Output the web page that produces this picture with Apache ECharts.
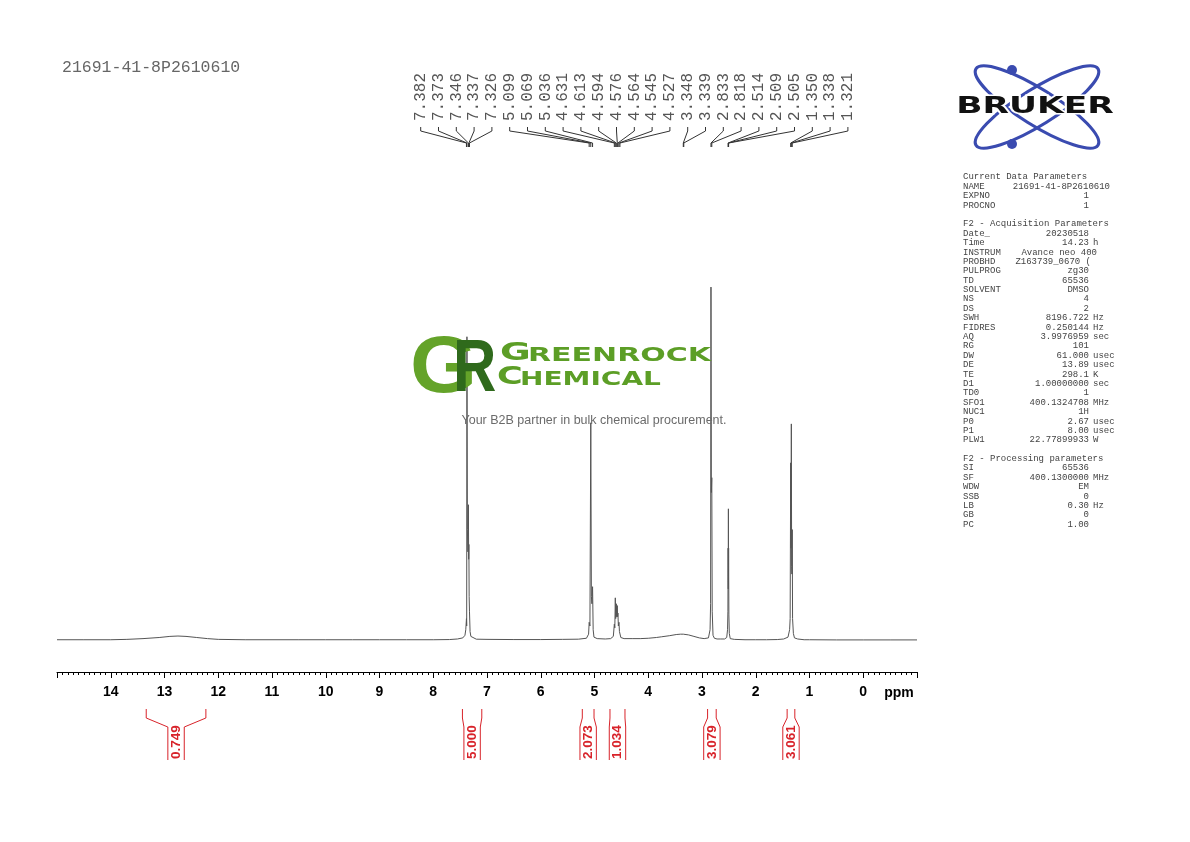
<!DOCTYPE html>
<html><head><meta charset="utf-8">
<script src="https://cdn.jsdelivr.net/npm/echarts@6/dist/echarts.min.js"></script>
<style>html,body{margin:0;padding:0;background:#fff}#c{width:1190px;height:842px}</style>
</head><body><div id="c"></div>
<script>
// ---- spectrum (ppm, intensity) ----
const spectrumPpm = [15.0,14.5,14.0,13.7,13.4,13.1,12.9,12.75,12.6,12.4,12.2,12.0,11.5,11.0,10.5,10.0,9.5,9.0,8.5,8.0,
  7.7,7.55,7.45,7.41,7.395,7.382,7.378,7.373,7.365,7.355,7.346,7.341,7.337,7.332,7.326,7.315,7.30,7.28,7.2,7.0,
  6.5,6.0,5.6,5.3,5.15,5.11,5.099,5.085,5.069,5.058,5.048,5.036,5.025,5.01,4.95,4.8,4.7,4.65,
  4.631,4.622,4.613,4.606,4.600,4.594,4.588,4.582,4.576,4.570,4.564,4.556,4.545,4.536,4.527,4.51,4.45,4.3,4.15,
  4.0,3.85,3.75,3.6,3.48,3.40,3.348,3.339,3.25,3.15,3.05,2.96,2.88,2.85,2.840,2.833,2.826,2.818,2.810,2.795,2.77,2.72,2.65,2.58,
  2.54,2.525,2.518,2.514,2.511,2.509,2.507,2.505,2.500,2.492,2.475,2.4,2.2,2.0,1.8,1.6,1.48,1.40,1.37,1.36,
  1.350,1.344,1.338,1.332,1.327,1.321,1.315,1.30,1.28,1.22,1.1,1.0,0.5,0.0,-0.5,-1.0];
const spectrumInt = [0.3,0.3,0.3,0.4,0.6,0.9,1.2,1.3,1.2,0.9,0.6,0.4,0.3,0.3,0.3,0.3,0.3,0.3,0.3,0.3,
  0.35,0.5,0.8,1.5,3.0,6.0,4.0,82.0,30.0,24.0,36.7,22.0,26.0,12.0,8.0,2.5,1.2,0.7,0.45,0.4,
  0.35,0.35,0.4,0.45,0.7,1.8,5.0,4.0,58.8,12.0,10.0,14.6,3.0,1.0,0.6,0.5,0.6,1.2,
  4.5,3.5,11.6,6.0,7.0,10.0,6.5,7.5,9.5,6.5,7.5,4.0,5.0,2.5,2.2,0.9,0.6,0.6,0.6,
  0.7,0.9,1.1,1.4,1.7,1.8,1.8,1.8,1.6,1.2,0.8,0.6,0.8,3.0,10.0,95.4,40.0,44.0,8.0,1.5,0.7,0.5,0.5,0.5,
  0.9,3.0,8.0,25.0,14.0,35.6,16.0,25.0,7.0,2.0,0.6,0.4,0.3,0.3,0.3,0.35,0.5,1.0,3.0,6.0,
  48.0,25.0,58.5,20.0,18.0,30.0,6.0,2.0,0.8,0.5,0.3,0.3,0.25,0.25,0.25,0.25];

// ---- peak picking labels ----
const peakLabelPpm = [7.382,7.373,7.346,7.337,7.326,5.099,5.069,5.036,4.631,4.613,4.594,4.576,4.564,4.545,4.527,
  3.348,3.339,2.833,2.818,2.514,2.509,2.505,1.350,1.338,1.321];

// ---- integrals ----
const integralFrom = [13.34,7.457,5.227,4.712,2.896,1.416];
const integralTo   = [12.23,7.097,5.009,4.433,2.736,1.273];
const integralValues = ['0.749','5.000','2.073','1.034','3.079','3.061'];

// ---- axis ----
const axisTickLabels = [0,1,2,3,4,5,6,7,8,9,10,11,12,13,14];

// ---- acquisition parameters ----
const paramNames = ['Current Data Parameters','NAME','EXPNO','PROCNO','','F2 - Acquisition Parameters','Date_','Time','INSTRUM','PROBHD','PULPROG','TD','SOLVENT','NS','DS','SWH','FIDRES','AQ','RG','DW','DE','TE','D1','TD0','SFO1','NUC1','P0','P1','PLW1','','F2 - Processing parameters','SI','SF','WDW','SSB','LB','GB','PC'];
const paramValues = ['','21691-41-8P2610610','1','1','','','20230518','14.23','Avance neo 400','Z163739_0670 (','zg30','65536','DMSO','4','2','8196.722','0.250144','3.9976959','101','61.000','13.89','298.1','1.00000000','1','400.1324708','1H','2.67','8.00','22.77899933','','','65536','400.1300000','EM','0','0.30','0','1.00'];
const paramUnits = ['','','','','','','','h','','','','','','','','Hz','Hz','sec','','usec','usec','K','sec','','MHz','','usec','usec','W','','','','MHz','','','Hz','',''];

const chart = echarts.init(document.getElementById('c'), null, {renderer:'canvas', width:1190, height:842});

const LABEL_LEFT = 420.7, LABEL_STEP = 17.8;
const MONO = '"Liberation Mono", "DejaVu Sans Mono", monospace';
const SANS = '"Liberation Sans", Arial, sans-serif';
const RED = '#d8232a';

const graphics = [];
graphics.push({type:'text', x:62, y:68, style:{text:'21691-41-8P2610610', font:'16.5px '+MONO, fill:'#666', align:'left', verticalAlign:'middle'}});
// parameters panel
const PLH = 9.39;
paramNames.forEach((n,i)=>{
  const y = 177 + i*PLH;
  if (n) graphics.push({type:'text', x:963, y:y, style:{text:n, font:'9px '+MONO, fill:'#444', align:'left', verticalAlign:'middle'}});
  const v = paramValues[i];
  if (v) {
    let rx = 1089;
    if (n==='NAME') rx = 1110; else if (n==='INSTRUM') rx = 1097; else if (n==='PROBHD') rx = 1091;
    graphics.push({type:'text', x:rx, y:y, style:{text:v, font:'9px '+MONO, fill:'#444', align:'right', verticalAlign:'middle'}});
  }
  const u = paramUnits[i];
  if (u) graphics.push({type:'text', x:1093, y:y, style:{text:u, font:'9px '+MONO, fill:'#444', align:'left', verticalAlign:'middle'}});
});
// Bruker logo
const BLUE = '#3a4bb0';
graphics.push({type:'ellipse', x:1037, y:107, rotation:0.56, shape:{cx:0,cy:0,rx:72,ry:18}, style:{fill:'none', stroke:BLUE, lineWidth:3.2}});
graphics.push({type:'ellipse', x:1037, y:107, rotation:-0.56, shape:{cx:0,cy:0,rx:72,ry:18}, style:{fill:'none', stroke:BLUE, lineWidth:3.2}});
graphics.push({type:'circle', shape:{cx:1012, cy:70, r:5}, style:{fill:BLUE}});
graphics.push({type:'circle', shape:{cx:1012, cy:144, r:5}, style:{fill:BLUE}});
graphics.push({type:'text', x:1035, y:107, scaleX:1.5, style:{text:'BRUKER', font:'bold 23px "DejaVu Sans", sans-serif', fill:'#111', stroke:'#fff', lineWidth:3, align:'center', verticalAlign:'middle'}});
// GreenRock watermark
graphics.push({type:'text', x:410, y:370, z:10, scaleX:1.08, style:{text:'G', font:'bold 80px '+SANS, fill:'#64a329', align:'left', verticalAlign:'middle'}});
graphics.push({type:'text', x:453, y:370, z:11, scaleX:0.8, style:{text:'R', font:'bold 75px '+SANS, fill:'#2f6a1c', align:'left', verticalAlign:'middle'}});
graphics.push({type:'text', x:500, y:366, z:10, scaleX:1.5, style:{text:'G', font:'bold 25px "DejaVu Sans", sans-serif', fill:'#5c9e26', align:'left', verticalAlign:'bottom'}});
graphics.push({type:'text', x:528, y:366, z:10, scaleX:1.5, style:{text:'REENROCK', font:'bold 20px "DejaVu Sans", sans-serif', fill:'#5c9e26', align:'left', verticalAlign:'bottom'}});
graphics.push({type:'text', x:497, y:390, z:10, scaleX:1.4, style:{text:'C', font:'bold 25px "DejaVu Sans", sans-serif', fill:'#5c9e26', align:'left', verticalAlign:'bottom'}});
graphics.push({type:'text', x:520, y:390, z:10, scaleX:1.4, style:{text:'HEMICAL', font:'bold 20px "DejaVu Sans", sans-serif', fill:'#5c9e26', align:'left', verticalAlign:'bottom'}});
graphics.push({type:'text', x:594, y:421, z:10, style:{text:'Your B2B partner in bulk chemical procurement.', font:'12.5px '+SANS, fill:'#6b6b6b', align:'center', verticalAlign:'middle'}});
// ppm unit label
graphics.push({type:'text', x:899, y:693, style:{text:'ppm', font:'bold 14px '+SANS, fill:'#000', align:'center', verticalAlign:'middle'}});

const option = {
  animation:false,
  backgroundColor:'#fff',
  grid:{left:57, right:273, top:270, bottom:170, containLabel:false},
  xAxis:{type:'value', min:-1, max:15, interval:1, inverse:true,
    axisLine:{show:true, onZero:false, lineStyle:{color:'#000', width:1}},
    axisTick:{show:true, length:6, lineStyle:{color:'#000', width:1}},
    minorTick:{show:true, splitNumber:10, length:3, lineStyle:{color:'#000', width:1}},
    splitLine:{show:false},
    axisLabel:{margin:13, color:'#000', fontFamily:'Liberation Sans', fontWeight:'bold', fontSize:14,
      formatter:v=> axisTickLabels.indexOf(v)>=0 ? String(v) : ''}
  },
  yAxis:{type:'value', min:-8.4, max:100, show:false},
  graphic:{elements:graphics},
  series:[
    {type:'line', data:spectrumPpm.map((p,i)=>[p, spectrumInt[i]]), showSymbol:false, symbol:'none',
      lineStyle:{color:'#555', width:1}, clip:false, z:5},
    {type:'custom', clip:false, z:6,
      data:peakLabelPpm.map((p,i)=>[p,0,i]), encode:{x:0,y:1},
      renderItem:(params, api)=>{
        const i = api.value(2);
        const xp = api.coord([api.value(0),0])[0];
        const xl = LABEL_LEFT + i*LABEL_STEP;
        return {type:'group', children:[
          {type:'polyline', shape:{points:[[xl,127],[xl,131],[xp,143],[xp,147]]}, style:{stroke:'#333', lineWidth:1, fill:null}},
          {type:'text', x:xl, y:121, rotation:Math.PI/2, style:{text:peakLabelPpm[i].toFixed(3), font:'16px '+MONO, fill:'#555', align:'left', verticalAlign:'middle'}}
        ]};
      }
    },
    {type:'custom', clip:false, z:6,
      data:integralFrom.map((f,i)=>[f, integralTo[i], i]), encode:{x:[0,1]},
      renderItem:(params, api)=>{
        const xa = api.coord([api.value(0),0])[0];
        const xb = api.coord([api.value(1),0])[0];
        const m = (xa+xb)/2, h = 8.2;
        const i = api.value(2);
        return {type:'group', children:[
          {type:'polyline', shape:{points:[[xa,709],[xa,718],[m-h,727],[m-h,760]]}, style:{stroke:RED, lineWidth:1, fill:null}},
          {type:'polyline', shape:{points:[[xb,709],[xb,718],[m+h,727],[m+h,760]]}, style:{stroke:RED, lineWidth:1, fill:null}},
          {type:'text', x:m, y:759, rotation:Math.PI/2, style:{text:integralValues[i], font:'bold 13.5px '+SANS, fill:RED, align:'left', verticalAlign:'middle'}}
        ]};
      }
    }
  ]
};
chart.setOption(option);
</script></body></html>
